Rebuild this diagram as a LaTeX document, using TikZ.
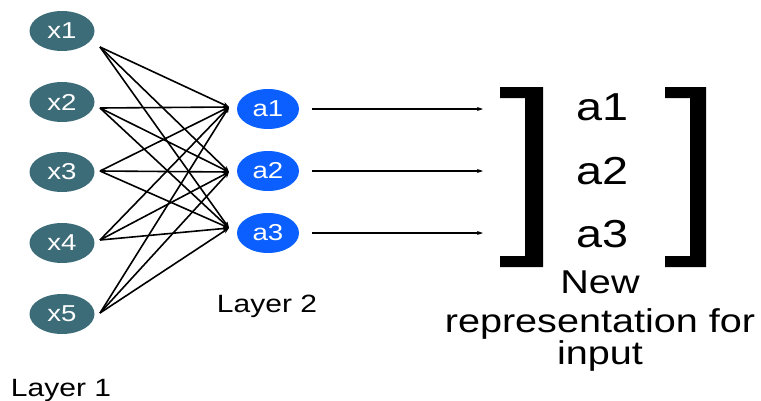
\documentclass[tikz,border=0pt]{standalone}
\usepackage{fontspec}
\setmainfont{Liberation Sans}[FakeStretch=1.2]
\usetikzlibrary{arrows.meta,shapes.geometric}
\definecolor{tealnode}{HTML}{3D6C79}
\definecolor{bluenode}{HTML}{0B5FFF}
\tikzset{
  inode/.style={ellipse, fill=tealnode, text=white, minimum width=65pt, minimum height=40pt, inner sep=0pt, font=\fontsize{23}{23}\selectfont},
  anode/.style={ellipse, fill=bluenode, text=white, minimum width=62pt, minimum height=40pt, inner sep=0pt, font=\fontsize{23}{23}\selectfont},
  wire/.style={line width=1.6pt, -{Stealth[length=6pt,width=5pt]}},
  outwire/.style={line width=1.2pt, -{Stealth[length=6pt,width=4pt]}},
  lbl/.style={anchor=base, inner sep=0pt, font=\fontsize{25}{25}\selectfont},
  big/.style={inner sep=0pt, font=\fontsize{39}{39}\selectfont},
  desc/.style={anchor=base, inner sep=0pt, font=\fontsize{33}{33}\selectfont},
  brk/.style={fill=black}
}
\begin{document}
\begin{tikzpicture}[x=1pt,y=-1pt]
\useasboundingbox (0,0) rectangle (761,400);
% input nodes
\node[inode] (x1) at (62,31) {x1};
\node[inode] (x2) at (62,102) {x2};
\node[inode] (x3) at (62,172) {x3};
\node[inode] (x4) at (62,243) {x4};
\node[inode] (x5) at (62,314) {x5};
% hidden nodes
\node[anode] (a1) at (268,109) {a1};
\node[anode] (a2) at (268,171) {a2};
\node[anode] (a3) at (268,233) {a3};
% ports
\coordinate (p1) at (100,47);
\coordinate (p2) at (100,108);
\coordinate (p3) at (100,171);
\coordinate (p4) at (100,240);
\coordinate (p5) at (100,313);
\coordinate (q1) at (229,107);
\coordinate (q2) at (229,172);
\coordinate (q3) at (229,228);
\foreach \i in {1,...,5}{
  \foreach \j in {1,2,3}{
    \draw[wire] (p\i) -- (q\j);
  }
}
% output arrows
\coordinate (r1) at (312,109);
\coordinate (r2) at (312,171);
\coordinate (r3) at (312,233);
\coordinate (s1) at (483,109);
\coordinate (s2) at (483,171);
\coordinate (s3) at (483,233);
\foreach \j in {1,2,3}{
  \draw[outwire] (r\j) -- (s\j);
}
% brackets
\fill[brk] (500,87) -- (543,87) -- (543,267) -- (500,267) -- (500,256) -- (525,256) -- (525,98) -- (500,98) -- cycle;
\fill[brk] (665,87) -- (706,87) -- (706,267) -- (665,267) -- (665,256) -- (690,256) -- (690,98) -- (665,98) -- cycle;
% vector entries
\node[big] (v1) at (603,107) {a1};
\node[big] (v2) at (603,171) {a2};
\node[big] (v3) at (603,234) {a3};
% labels
\node[desc] (n1) at (600,293) {New};
\node[desc] (n2) at (600,332) {representation for};
\node[desc] (n3) at (600,364) {input};
\node[lbl] (l2) at (267,312) {Layer 2};
\node[lbl] (l1) at (61,396) {Layer 1};
\end{tikzpicture}
\end{document}
